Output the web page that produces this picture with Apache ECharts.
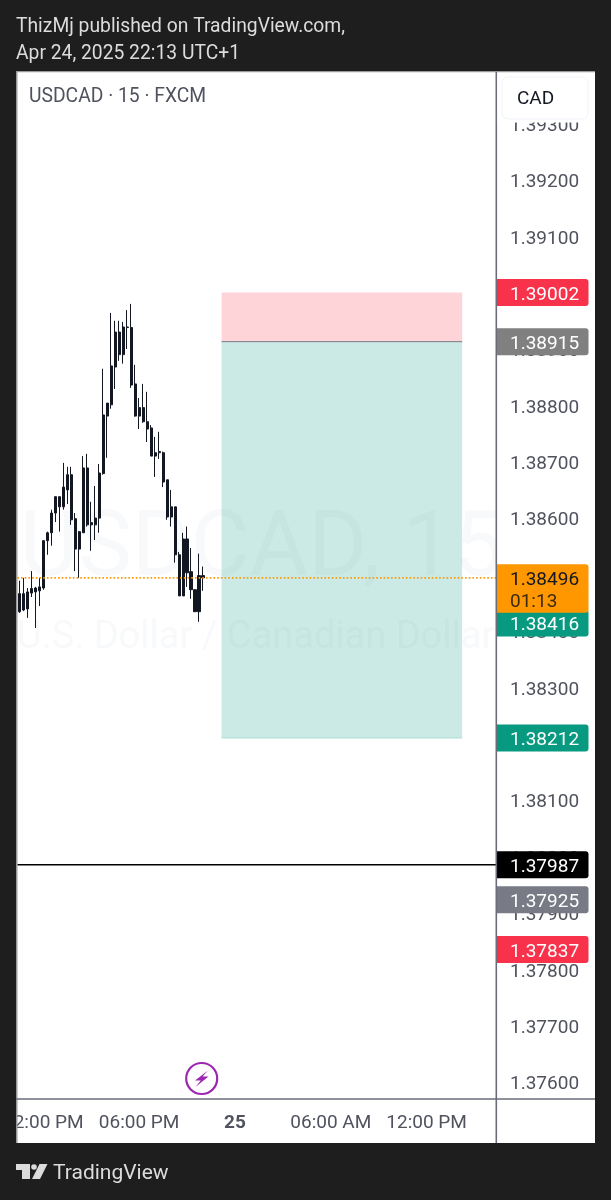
<!DOCTYPE html>
<html>
<head>
<meta charset="utf-8">
<style>html,body{margin:0;padding:0;background:#1e1e1e}#chart{width:611px;height:1200px}</style>
<script src="https://cdn.jsdelivr.net/npm/echarts@6/dist/echarts.min.js"></script>
</head>
<body>
<div id="chart"></div>
<script>
// USDCAD 15-minute bars, Apr 24 2025 from 10:30 (UTC+1): [open, close, low, high]
const candles = [
  [1.38468,1.38436,1.38434,1.38491],[1.38439,1.38468,1.38437,1.38496],[1.38441,1.38471,1.38425,1.38478],
  [1.38469,1.38477,1.38462,1.38508],[1.38478,1.38471,1.38407,1.38480],[1.38473,1.38480,1.38446,1.38496],
  [1.38478,1.38562,1.38475,1.38563],[1.38562,1.38576,1.38537,1.38578],[1.38576,1.38611,1.38553,1.38617],
  [1.38611,1.38640,1.38595,1.38640],[1.38640,1.38622,1.38578,1.38640],[1.38622,1.38657,1.38617,1.38700],
  [1.38652,1.38679,1.38627,1.38693],[1.38679,1.38599,1.38590,1.38693],[1.38601,1.38547,1.38508,1.38611],
  [1.38547,1.38578,1.38496,1.38579],[1.38576,1.38691,1.38576,1.38712],[1.38691,1.38590,1.38587,1.38716],
  [1.38590,1.38594,1.38544,1.38631],[1.38590,1.38602,1.38563,1.38659],[1.38602,1.38682,1.38576,1.38698],
  [1.38681,1.38785,1.38679,1.38867],[1.38783,1.38806,1.38709,1.38806],[1.38803,1.38872,1.38796,1.38966],
  [1.38870,1.38932,1.38831,1.38952],[1.38932,1.38892,1.38881,1.38952],[1.38892,1.38941,1.38876,1.38950],
  [1.38941,1.38940,1.38902,1.38971],[1.38940,1.38838,1.38833,1.38982],[1.38840,1.38783,1.38782,1.38874],
  [1.38783,1.38798,1.38760,1.38815],[1.38798,1.38773,1.38771,1.38840],[1.38773,1.38760,1.38737,1.38826],
  [1.38762,1.38712,1.38712,1.38767],[1.38712,1.38718,1.38675,1.38746],[1.38718,1.38720,1.38707,1.38755],
  [1.38718,1.38666,1.38657,1.38720],[1.38670,1.38604,1.38599,1.38670],[1.38604,1.38622,1.38587,1.38652],
  [1.38622,1.38537,1.38523,1.38622],[1.38537,1.38464,1.38464,1.38542],[1.38464,1.38565,1.38464,1.38576],
  [1.38565,1.38505,1.38480,1.38587],[1.38507,1.38475,1.38459,1.38549],[1.38475,1.38436,1.38436,1.38475],
  [1.38436,1.38500,1.38418,1.38539],[1.38500,1.38496,1.38473,1.38516]
];

const priceTicks = [1.376,1.377,1.378,1.379,1.38,1.381,1.382,1.383,1.384,1.385,1.386,1.387,1.388,1.389,1.39,1.391,1.392,1.393];
const priceMin = 1.375734;
const priceMax = 1.393933;

// Time slots shown on the axis, 15 minutes each, including the empty space after the last bar
const slotCount = 120;
const firstSlot = Date.UTC(2025, 3, 24, 10, 30);
const categories = [];
for (let i = 0; i < slotCount; i++) categories.push(firstSlot + i * 900000);
const timeTickStamps = [Date.UTC(2025,3,24,12), Date.UTC(2025,3,24,18), Date.UTC(2025,3,25,0), Date.UTC(2025,3,25,6), Date.UTC(2025,3,25,12)];
const timeTickLabels = ['12:00 PM', '06:00 PM', '{day|25}', '06:00 AM', '12:00 PM'];

// Short position drawing: start and end slot, stop, entry, target
const positionSpan = [50.65, 110.9];
const stopPrice = 1.39002;
const entryPrice = 1.38915;
const targetPrice = 1.38212;

const lastPrice = 1.38496;
const countdown = '01:13';
const horizontalLevel = 1.37987;

// Price scale tags
const tagPrices = [1.37925, 1.37837, 1.38212, 1.37987, 1.38416, 1.39002, 1.38915, lastPrice];
const tagFills  = ['#787b86', '#f7324a', '#089981', '#000000', '#089981', '#f7324a', '#808080', '#ff9800'];
const tagInks   = ['#ffffff', '#ffffff', '#ffffff', '#ffffff', '#ffffff', '#ffffff', '#ffffff', '#131722'];

const FONT = 'Roboto';
const LABEL_FONT = '19px ' + FONT;
const HEAD_FONT = '19.3px ' + FONT;
const chart = echarts.init(document.getElementById('chart'), null, {renderer: 'canvas'});

function renderPosition(params, api) {
  const left = api.coord([positionSpan[0], stopPrice]);
  const right = api.coord([positionSpan[1], entryPrice]);
  const bottom = api.coord([positionSpan[0], targetPrice]);
  const w = right[0] - left[0];
  return {type: 'group', children: [
    {type: 'rect', shape: {x: left[0], y: left[1], width: w, height: right[1] - left[1]}, style: {fill: 'rgba(248,50,74,0.21)'}},
    {type: 'rect', shape: {x: left[0], y: right[1], width: w, height: bottom[1] - right[1]}, style: {fill: 'rgba(0,150,125,0.2)'}},
    {type: 'line', shape: {x1: left[0], y1: right[1], x2: right[0], y2: right[1]}, style: {stroke: '#787b86', lineWidth: 1}},
    {type: 'line', shape: {x1: left[0], y1: bottom[1], x2: right[0], y2: bottom[1]}, style: {stroke: '#a6ddd3', lineWidth: 1}}
  ]};
}

// Horizontal levels across the whole plot
function renderLevels(params, api) {
  const x0 = api.coord([-0.5, lastPrice])[0];
  const x1 = api.coord([slotCount - 0.5, lastPrice])[0];
  const yLast = api.coord([0, lastPrice])[1];
  const yLevel = api.coord([0, horizontalLevel])[1];
  return {type: 'group', children: [
    {type: 'line', shape: {x1: x0, y1: yLevel, x2: x1, y2: yLevel}, style: {stroke: '#000000', lineWidth: 1.5}},
    {type: 'line', shape: {x1: x0, y1: yLast, x2: x1, y2: yLast}, style: {stroke: '#ff9800', lineWidth: 1.6, lineDash: [1.6, 2.1]}}
  ]};
}

function renderTag(params, api) {
  const i = api.value(0);
  const price = tagPrices[i];
  const y = api.coord([0, price])[1];
  const isLast = price === lastPrice;
  const top = y - 13.5;
  const h = isLast ? 48.5 : 27;
  const children = [
    {type: 'rect', shape: {x: 497, y: top, width: 91.5, height: h, r: [0, 3, 3, 0]}, style: {fill: tagFills[i]}},
    {type: 'text', style: {x: 510, y: y + 2.5, text: price.toFixed(5), fill: tagInks[i], font: LABEL_FONT, textVerticalAlign: 'middle'}}
  ];
  if (isLast) {
    children.push({type: 'text', style: {x: 510, y: y + 24.5, text: countdown, fill: '#3d2a0c', font: LABEL_FONT, textVerticalAlign: 'middle'}});
  }
  return {type: 'group', children};
}

chart.setOption({
  animation: false,
  backgroundColor: '#1e1e1e',
  grid: {left: 16.5, top: 72, width: 480, height: 1026, containLabel: false},
  xAxis: [
    {
      type: 'category', data: categories, boundaryGap: true,
      axisLine: {show: false}, axisTick: {show: false}, splitLine: {show: false},
      axisLabel: {
        margin: 14, fontFamily: FONT, fontSize: 19, color: '#50535e', padding: [2, 0, 0, 0],
        interval: (idx, value) => timeTickStamps.includes(Number(value)),
        formatter: value => timeTickLabels[timeTickStamps.indexOf(Number(value))],
        rich: {day: {fontFamily: FONT, fontSize: 19, fontWeight: 'bold', color: '#50535e'}}
      }
    },
    {type: 'value', show: false, min: -0.5, max: slotCount - 0.5}
  ],
  yAxis: {
    type: 'value', position: 'right', min: priceMin, max: priceMax, scale: true,
    axisLine: {show: false}, axisTick: {show: false}, splitLine: {show: false},
    axisLabel: {
      customValues: priceTicks, margin: 13.5, fontFamily: FONT, fontSize: 19, color: '#50535e',
      align: 'left', verticalAlign: 'top', lineHeight: 3, formatter: v => v.toFixed(5)
    }
  },
  series: [
    {type: 'custom', name: 'position', xAxisIndex: 1, z: 2, silent: true, data: [[positionSpan[0], stopPrice]], renderItem: renderPosition},
    {
      type: 'candlestick', name: 'USDCAD', xAxisIndex: 0, z: 5, barWidth: 2.6, silent: true,
      data: candles,
      itemStyle: {color: '#131722', color0: '#131722', borderColor: '#131722', borderColor0: '#131722', borderWidth: 1}
    },
    {type: 'custom', name: 'levels', xAxisIndex: 1, z: 6, silent: true, data: [[0, lastPrice]], renderItem: renderLevels},
    {type: 'custom', name: 'tags', xAxisIndex: 1, z: 10, silent: true, data: tagPrices.map((p, i) => [i]), renderItem: renderTag, encode: {x: 0}}
  ],
  graphic: [
    // panes and watermark under the chart
    {type: 'rect', z: -10, shape: {x: 16, y: 71, width: 579, height: 1072}, style: {fill: '#ffffff'}},
    {type: 'text', z: -9, style: {x: 20, y: 552, text: 'USDCAD, 15', fill: '#f8f9fb', font: '90px ' + FONT, textVerticalAlign: 'middle'}},
    {type: 'text', z: -9, style: {x: 17, y: 638, text: 'U.S. Dollar / Canadian Dollar', fill: '#f8f9fb', font: '38px ' + FONT, textVerticalAlign: 'middle'}},
    {type: 'rect', z: -8, shape: {x: 497, y: 72, width: 98, height: 1071}, style: {fill: '#ffffff'}},

    // header and footer
    {type: 'text', z: 50, style: {x: 16, y: 27, text: 'ThizMj published on TradingView.com,', fill: '#dcdcdc', font: HEAD_FONT, textVerticalAlign: 'middle'}},
    {type: 'text', z: 50, style: {x: 16, y: 54, text: 'Apr 24, 2025 22:13 UTC+1', fill: '#dcdcdc', font: HEAD_FONT, textVerticalAlign: 'middle'}},
    {type: 'text', z: 50, style: {x: 29, y: 97, text: 'USDCAD · 15 · FXCM', fill: '#50535e', font: HEAD_FONT, textVerticalAlign: 'middle'}},
    {type: 'text', z: 50, style: {x: 53, y: 1174, text: 'TradingView', fill: '#dcdcdc', font: '21px ' + FONT, textVerticalAlign: 'middle'}},
    {type: 'polygon', z: 50, shape: {points: [[16,1164],[30,1164],[30,1179],[22,1179],[22,1170],[16,1170]]}, style: {fill: '#dcdcdc'}},
    {type: 'circle', z: 50, shape: {cx: 34, cy: 1167, r: 2.8}, style: {fill: '#dcdcdc'}},
    {type: 'polygon', z: 50, shape: {points: [[39.5,1164],[47.5,1164],[40,1179],[32,1179]]}, style: {fill: '#dcdcdc'}},

    // pane borders and the strip that cuts the time labels at the pane edge
    {type: 'rect', z: 50, shape: {x: 0, y: 1099, width: 16, height: 44}, style: {fill: '#1e1e1e'}},
    {type: 'rect', z: 51, shape: {x: 16, y: 71, width: 1.5, height: 1072}, style: {fill: '#9a9a9a'}},
    {type: 'rect', z: 51, shape: {x: 16, y: 71, width: 579, height: 1.2}, style: {fill: '#9a9a9a'}},
    {type: 'rect', z: 51, shape: {x: 495.5, y: 72, width: 1.6, height: 1071}, style: {fill: '#6a6d78'}},
    {type: 'rect', z: 51, shape: {x: 16, y: 1098.3, width: 579, height: 1.4}, style: {fill: '#6a6d78'}},

    // currency button over the price scale, with the clear margin below it
    {type: 'rect', z: 52, shape: {x: 497.5, y: 73, width: 97, height: 49.5}, style: {fill: '#ffffff'}},
    {type: 'rect', z: 52, shape: {x: 502, y: 77, width: 86, height: 42, r: 6}, style: {fill: '#ffffff', stroke: '#f0f3fa', lineWidth: 1}},
    {type: 'text', z: 53, style: {x: 517, y: 99, text: 'CAD', fill: '#131722', font: LABEL_FONT, textVerticalAlign: 'middle'}},

    // event badge
    {type: 'circle', z: 53, shape: {cx: 201.7, cy: 1078.5, r: 15.5}, style: {fill: '#ffffff', stroke: '#9c27b0', lineWidth: 2.2}},
    {type: 'polygon', z: 54, shape: {points: [[208,1070.5],[195,1080.5],[200.8,1080.5],[195.5,1087],[208.5,1076.6],[202.6,1076.6]]}, style: {fill: '#9c27b0'}}
  ]
});
</script>
</body>
</html>
